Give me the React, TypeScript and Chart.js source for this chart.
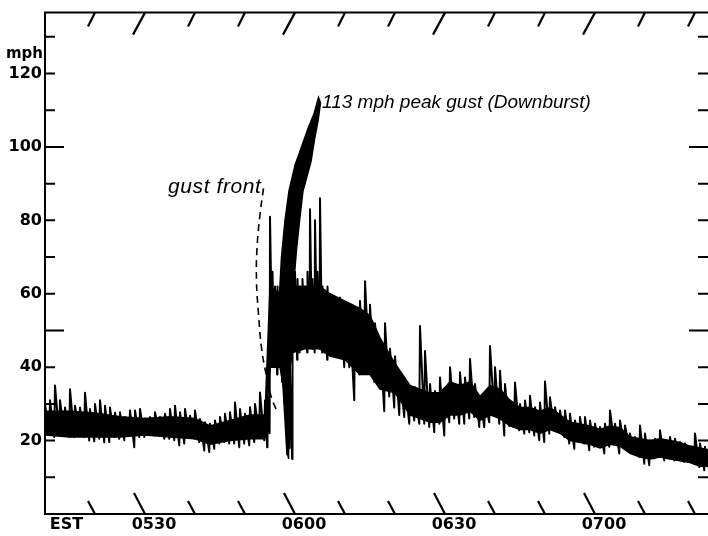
import React, { useEffect, useRef } from "react";
import { Chart, registerables } from "chart.js";

Chart.register(...registerables);

// Time axis: minutes after 05:10 EST
const traceMinutes = [
  0, 1, 2, 3, 4, 5, 6, 7, 8, 9, 10, 11, 12, 13, 14, 15, 16, 17, 18, 19, 20, 21, 22, 23, 24, 25, 26, 27, 28, 29,
  30, 31, 32, 33, 34, 35, 36, 37, 38, 39, 40, 41, 42, 43, 44,
  44.5, 45, 45.5, 46, 46.5, 47, 47.5, 48, 48.5, 49, 49.5, 50, 50.5, 51, 51.5, 52, 52.5, 53, 53.5, 54, 54.5,
  55, 55.5, 56, 56.5, 57, 57.5, 58,
  59, 60, 61, 62, 63, 64, 65, 66, 67, 68, 69, 70, 71, 72, 73, 74, 75, 76, 77, 78, 79, 80, 81, 82, 83, 84,
  85, 86, 87, 88, 89, 90, 91, 92, 93, 94, 95, 96, 97, 98, 99, 100, 101, 102, 103, 104, 105, 106, 107, 108,
  109, 110, 111, 112, 113, 114, 115, 116, 117, 118, 119, 120, 121, 122, 123, 124, 125, 126, 127, 128, 129,
  130, 131, 132,
];

// gust peaks (top of each pen stroke), mph
const traceTopMph = [
  30, 31, 35, 31, 29, 34, 29.5, 29, 33, 28.6, 30, 31, 29.5, 29, 27.6, 27.7, 26.4, 28.2, 28.2, 28.6, 26, 26.4,
  27.7, 26.4, 27.3, 28.6, 29.5, 27.7, 28.6, 26.8, 28.2, 25.9, 25, 24.6, 25.5, 26.4, 27.3, 27.7, 30.4, 28.6,
  27.3, 29.1, 30, 33.1, 30.9,
  32, 81, 66, 62, 62, 58, 55, 50, 45, 40, 91, 66, 64, 62, 64, 62, 66, 83, 64, 80, 66,
  86, 62, 60, 62, 58, 57, 58,
  59, 57, 53, 56, 58, 63.4, 57, 52, 47, 52, 45, 43, 38.1, 35.4, 33.5, 34.5, 51.2, 44.4, 35.4, 33.5, 37.2,
  33.5, 40, 35.4, 38.6, 37.2, 42.2, 35.4, 31.8, 30.9, 45.8, 40, 39, 35.4, 30.9, 35.8, 30, 30.9, 32.2, 29.1,
  30.4, 36.1, 31.8, 29.1, 28.2, 28.2, 27.3, 25.5, 26.4, 26.4, 25.5, 24.6, 23.7, 24.6, 28.2, 24.6, 25.5,
  24.1, 21.9, 21, 24.1, 21.9, 20.1, 20.5, 22.8, 20.1, 21, 20.5, 19.6, 19.2, 18.3, 21.9, 19.2, 18.3,
];

// lulls (bottom of each pen stroke), mph
const traceBottomMph = [
  22, 21, 21.5, 22, 21, 21, 22, 21, 20, 19.8, 20.5, 19.5, 19.6, 21, 20.5, 20.1, 21.9, 18.2, 21, 21, 21.9,
  21.4, 21.9, 20.5, 20.5, 20.1, 18.7, 19.2, 21, 20.5, 19.6, 17.3, 16.9, 17.8, 19.2, 19.6, 19.2, 19.2, 18.2,
  19.2, 18.7, 19.6, 21.9, 20.1, 18.2,
  22, 46, 40, 38, 40, 36, 30, 24, 18, 15, 48, 42, 44, 45, 46, 44, 46, 45, 44, 46, 45,
  44, 44, 42, 45, 44, 46, 45,
  40, 40, 31, 38, 39, 40, 36, 37, 28, 32, 29, 27, 26.4, 24.6, 25.5, 24.6, 24.6, 23.7, 22.3, 24.6, 21.4,
  25, 26, 24.6, 24.6, 26, 26.4, 23.7, 23.7, 25, 27, 24.6, 21.4, 24, 24.5, 22.8, 21.9, 22.3, 21.4, 20.1,
  19.6, 21.9, 22.8, 22.8, 21, 19.2, 17.8, 20.1, 19.2, 17.4, 18.3, 18.3, 16.5, 18.3, 19.2, 16.5, 18.3,
  18.3, 16.5, 15.6, 13.7, 13.3, 15.1, 15.6, 14.6, 15.1, 14.6, 15.1, 14.2, 14.6, 13.7, 12.8, 11.9, 11.9,
];

// solid (inked-over) part of the recorder band: upper and lower edge, mph
const bandMinutes = [
  0, 5, 10, 15, 20, 25, 30, 33, 37, 41, 44, 45, 47, 48, 49.5, 52, 55, 57, 60, 63, 65, 67, 70, 73, 75, 77,
  79, 81, 83, 85, 87, 89, 91, 93, 95, 97, 99, 101, 103, 105, 107, 109, 111, 113, 115, 117, 119, 121, 123,
  125, 127, 129, 131, 132.6,
];
const bandUpperMph = [
  28, 28, 27.5, 26.5, 26, 26.5, 26, 24, 25.5, 27, 27, 62, 60, 50, 62, 62, 62, 60, 58, 56, 54, 48, 41, 35,
  34, 33, 33, 36, 35, 36, 32, 35, 34, 31, 29, 29, 28, 29, 27, 25, 24.5, 24, 23, 24, 23.5, 21, 20.5, 20,
  20.5, 20, 19.5, 18.5, 18, 17.5,
];
const bandLowerMph = [
  21.5, 21, 21, 21, 21.5, 21, 20.5, 19, 20, 20.5, 20.5, 40, 40, 32, 44, 45, 45, 43, 42, 38, 38, 34, 33,
  27, 26, 25, 25, 27, 27, 28, 25.5, 27, 26, 24, 23, 23, 22, 23, 22, 20, 19.5, 19, 18, 19, 18.5, 16.5,
  15.5, 15, 15.5, 15, 14.5, 14, 13, 13,
];

// outline of the downburst pen arc (up the left edge, down the right edge)
const arcMinutes = [
  48.4, 47.6, 47.0, 46.9, 47.3, 48.0, 48.8, 50.0, 51.3, 52.6, 53.8, 54.7,
  55.1, 54.6, 53.9, 53.2, 51.6, 51.0, 50.3, 49.7, 49.3, 49.0, 48.8, 48.7,
];
const arcMph = [
  16, 35, 50, 60, 70, 80, 88, 95, 100, 105, 109, 113.5,
  112, 107, 102, 96, 88, 81, 72, 62, 50, 38, 25, 15,
];

// dashed "gust front" guide
const gustFrontMinutes = [43.7, 43.0, 42.4, 42.3, 42.7, 43.3, 44.2, 45.3, 46.6];
const gustFrontMph = [88.7, 81.6, 72.4, 63.4, 54.5, 45.3, 38.2, 31.7, 27.4];

// axis labels
const xLabelMinutes = [2.5, 20, 50, 80, 110];
const xLabels = ["EST", "0530", "0600", "0630", "0700"];
const yLabelValues = [20, 40, 60, 80, 100, 120];
const mphTickValues = [10, 20, 30, 40, 50, 60, 70, 80, 90, 100, 110, 120, 130];
const longMphTicks = [50, 100];
const recorderMarkMinutes = [10, 20, 30, 40, 50, 60, 70, 80, 90, 100, 110, 120, 130];
const longRecorderMarks = [20, 50, 80, 110];

// annotations (anchor in minutes, mph)
const gustFrontLabel = { text: "gust front", minute: 24.6, mph: 87.5 };
const peakLabel = { text: "113 mph peak gust (Downburst)", minute: 55.4, mph: 110.5 };

const X_MIN = 0;
const X_MAX = 132.6;
const Y_MIN = 0;
const Y_MAX = 136.6;

const TICK_FONT = { family: "DejaVu Sans", size: 16, weight: "bold" as const };

const framePlugin = {
  id: "frame",
  afterDatasetsDraw(chart: any) {
    const { ctx, chartArea: a, scales } = chart;
    const xs = scales.x;
    const ys = scales.y;
    ctx.save();
    ctx.strokeStyle = "#000";
    ctx.lineWidth = 2;
    ctx.lineCap = "butt";
    ctx.beginPath();
    ctx.moveTo(a.left - 1, a.top);
    ctx.lineTo(a.right, a.top);
    ctx.moveTo(a.left, a.top);
    ctx.lineTo(a.left, a.bottom);
    ctx.moveTo(a.left - 1, a.bottom);
    ctx.lineTo(a.right, a.bottom);
    mphTickValues.forEach((v) => {
      const py = ys.getPixelForValue(v);
      const len = longMphTicks.includes(v) ? 19 : 10;
      ctx.moveTo(a.left, py);
      ctx.lineTo(a.left + len, py);
      ctx.moveTo(a.right, py);
      ctx.lineTo(a.right - len, py);
    });
    ctx.stroke();
    ctx.lineWidth = 2.2;
    ctx.beginPath();
    recorderMarkMinutes.forEach((m) => {
      const px = xs.getPixelForValue(m);
      const long = longRecorderMarks.includes(m);
      ctx.moveTo(px, a.top);
      ctx.lineTo(px - (long ? 12 : 7), a.top + (long ? 22 : 14));
      ctx.moveTo(px, a.bottom);
      ctx.lineTo(px - (long ? 11 : 7), a.bottom - (long ? 21 : 13));
    });
    ctx.stroke();

    ctx.fillStyle = "#000";
    ctx.font = 'bold 15px "DejaVu Sans"';
    ctx.textAlign = "right";
    ctx.textBaseline = "middle";
    ctx.fillText("mph", a.left - 2, ys.getPixelForValue(125.3));

    ctx.textAlign = "left";
    ctx.textBaseline = "alphabetic";
    ctx.font = 'italic 21px "Liberation Sans"';
    try {
      (ctx as any).letterSpacing = "0.6px";
    } catch (e) {}
    ctx.fillText(gustFrontLabel.text, xs.getPixelForValue(gustFrontLabel.minute), ys.getPixelForValue(gustFrontLabel.mph));
    try {
      (ctx as any).letterSpacing = "0px";
    } catch (e) {}
    ctx.font = 'italic 19px "Liberation Sans"';
    ctx.fillText(peakLabel.text, xs.getPixelForValue(peakLabel.minute), ys.getPixelForValue(peakLabel.mph));
    ctx.restore();
  },
};

export default function App() {
  const ref = useRef<HTMLCanvasElement | null>(null);

  useEffect(() => {
    if (!ref.current) return;
    const tracePoints: { x: number; y: number }[] = [];
    traceMinutes.forEach((m, i) => {
      const next = i + 1 < traceMinutes.length ? traceMinutes[i + 1] : m + 1;
      tracePoints.push({ x: m, y: traceTopMph[i] });
      tracePoints.push({ x: m + (next - m) * 0.85, y: traceBottomMph[i] });
    });
    const upperPoints = bandMinutes.map((m, i) => ({ x: m, y: bandUpperMph[i] }));
    const lowerPoints = bandMinutes.map((m, i) => ({ x: m, y: bandLowerMph[i] }));
    const arcPoints = arcMinutes.map((m, i) => ({ x: m, y: arcMph[i] }));
    const frontPoints = gustFrontMinutes.map((m, i) => ({ x: m, y: gustFrontMph[i] }));

    const chart = new Chart(ref.current, {
      type: "line",
      data: {
        datasets: [
          {
            label: "Band upper",
            data: upperPoints,
            borderColor: "#000",
            backgroundColor: "#000",
            borderWidth: 1.5,
            pointRadius: 0,
            tension: 0,
            fill: "+1",
          },
          {
            label: "Band lower",
            data: lowerPoints,
            borderColor: "#000",
            borderWidth: 1.5,
            pointRadius: 0,
            tension: 0,
            fill: false,
          },
          {
            label: "Wind speed",
            data: tracePoints,
            borderColor: "#000",
            borderWidth: 2,
            pointRadius: 0,
            tension: 0,
            borderJoinStyle: "round",
            fill: false,
          },
          {
            label: "Downburst arc",
            data: arcPoints,
            borderColor: "#000",
            backgroundColor: "#000",
            borderWidth: 1.5,
            pointRadius: 0,
            tension: 0,
            fill: "shape",
          },
          {
            label: "Gust front",
            data: frontPoints,
            borderColor: "#000",
            borderWidth: 1.6,
            borderDash: [7, 5],
            pointRadius: 0,
            tension: 0.4,
            fill: false,
          },
        ],
      },
      options: {
        responsive: false,
        animation: false,
        events: [],
        layout: { padding: { top: 10, left: 0, right: 0, bottom: 0 } },
        plugins: { legend: { display: false }, tooltip: { enabled: false } },
        scales: {
          x: {
            type: "linear",
            min: X_MIN,
            max: X_MAX,
            grid: { display: false, drawTicks: false },
            border: { display: false },
            afterBuildTicks: (s: any) => {
              s.ticks = xLabelMinutes.map((v) => ({ value: v }));
            },
            afterFit: (s: any) => {
              s.height = 22;
            },
            ticks: {
              autoSkip: false,
              maxRotation: 0,
              padding: 1,
              labelOffset: 9,
              color: "#000",
              font: TICK_FONT,
              callback: (_v: any, i: number) => xLabels[i],
            },
          },
          y: {
            type: "linear",
            min: Y_MIN,
            max: Y_MAX,
            grid: { display: false, drawTicks: false },
            border: { display: false },
            afterBuildTicks: (s: any) => {
              s.ticks = yLabelValues.map((v) => ({ value: v }));
            },
            afterFit: (s: any) => {
              s.width = 45;
            },
            ticks: {
              padding: 3,
              color: "#000",
              font: TICK_FONT,
              callback: (v: any) => String(v),
            },
          },
        },
      } as any,
      plugins: [framePlugin],
    });
    return () => chart.destroy();
  }, []);

  return (
    <div style={{ position: "fixed", left: 0, top: 0, width: 708, height: 536, background: "#fff" }}>
      <canvas ref={ref} width={708} height={536} />
    </div>
  );
}
